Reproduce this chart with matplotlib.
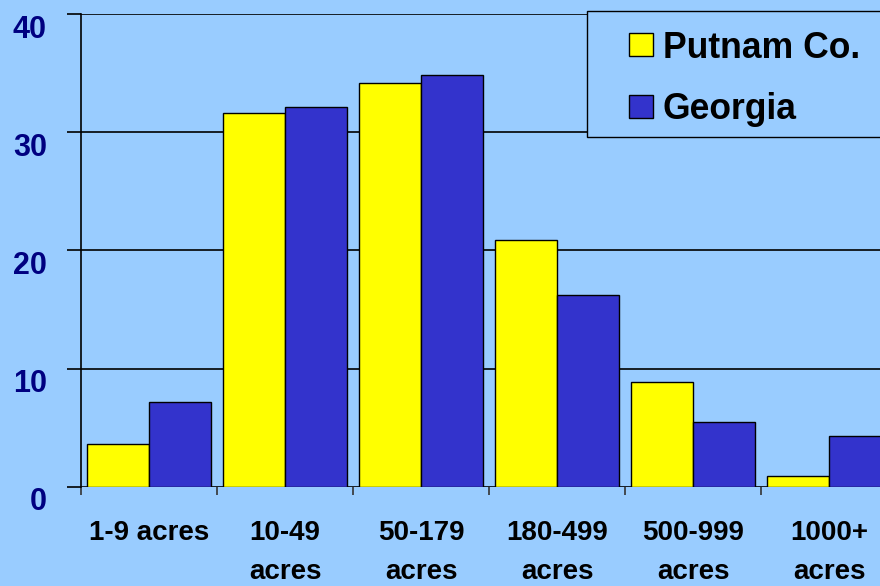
import matplotlib
matplotlib.use("Agg")
import matplotlib.pyplot as plt
import matplotlib.transforms as mtransforms
from matplotlib.patches import Rectangle
from matplotlib.legend_handler import HandlerPatch
import numpy as np

categories = ["1-9 acres", "10-49\nacres", "50-179\nacres", "180-499\nacres", "500-999\nacres", "1000+\nacres"]
putnam = [3.6, 31.6, 34.2, 20.9, 8.9, 0.9]
georgia = [7.2, 32.1, 34.8, 16.2, 5.5, 4.3]
series_names = ["Putnam Co.", "Georgia"]
yticks = [0, 10, 20, 30, 40]

BG = "#99CCFF"
YEL = "#FFFF00"
BLU = "#3333CC"
NAVY = "#000080"

FAM = "Liberation Sans"
YSZ, XSZ, LSZ = 22, 20, 25.6

plt.rcParams['font.family'] = [FAM, 'DejaVu Sans']
plt.rcParams['font.weight'] = 'bold'

W, H = 880, 586
fig = plt.figure(figsize=(8.8, 5.86), dpi=100, facecolor=BG)
ax = fig.add_axes([81/W, 1 - 487/H, 816/W, (487-14)/H])
ax.set_facecolor(BG)

x = np.arange(len(categories))
w = 0.456
b1 = ax.bar(x - w/2, putnam, w, color=YEL, edgecolor="black", linewidth=1.0, label=series_names[0], zorder=3)
b2 = ax.bar(x + w/2, georgia, w, color=BLU, edgecolor="black", linewidth=1.0, label=series_names[1], zorder=3)

ax.set_xlim(-0.5, len(categories) - 0.5)
ax.set_ylim(0, 40)

for s in ["top", "right", "bottom"]:
    ax.spines[s].set_visible(False)
ax.spines["left"].set_color("black")
ax.spines["left"].set_linewidth(1.2)
ax.spines["left"].set_zorder(4)

ax.set_yticks(yticks)
ax.set_yticklabels([str(v) for v in yticks])
ax.yaxis.grid(True, color="black", linewidth=1.2, zorder=1)
ax.tick_params(axis="y", length=10, width=1.2, color="black", pad=14.5,
               labelsize=YSZ, labelcolor=NAVY)
offset = mtransforms.ScaledTranslation(0, -12/100, fig.dpi_scale_trans)
for lab in ax.get_yticklabels():
    lab.set_transform(lab.get_transform() + offset)
    lab.set_fontweight("bold")

ax.set_xticks(np.arange(-0.5, len(categories) + 0.5, 1.0))
ax.set_xticklabels([])
ax.set_xticks(x, minor=True)
ax.set_xticklabels(categories, minor=True, fontsize=XSZ, fontweight="bold",
                   color="black", linespacing=1.62)
ax.tick_params(axis="x", which="major", length=6, width=1.2, color="#333333", direction="out")
ax.tick_params(axis="x", which="minor", length=0, pad=24)


def make_sq(legend, orig_handle, xdescent, ydescent, width, height, fontsize):
    return Rectangle((-xdescent + width - height, -ydescent), height, height)


# legend frame drawn separately so its box can match the reference
frame = Rectangle((587/W, 1 - 137/H), (900-587)/W, (137-11)/H, transform=fig.transFigure,
                  facecolor=BG, edgecolor="black", linewidth=1.0, zorder=4)
fig.patches.append(frame)

handles = [b1.patches[0], b2.patches[0]]
em = LSZ * 100 / 72
leg = fig.legend(handles, series_names, loc="upper left",
                 bbox_to_anchor=(605/W, 1 - 18/H),
                 bbox_transform=fig.transFigure,
                 prop={"family": FAM, "weight": "bold", "size": LSZ},
                 frameon=False, borderpad=12.5/em, borderaxespad=0,
                 handlelength=35/em, handleheight=22/em, handletextpad=10/em,
                 labelspacing=0.755,
                 handler_map={Rectangle: HandlerPatch(patch_func=make_sq)})
leg.set_zorder(5)

fig.savefig("out.png", dpi=100, facecolor=BG)
